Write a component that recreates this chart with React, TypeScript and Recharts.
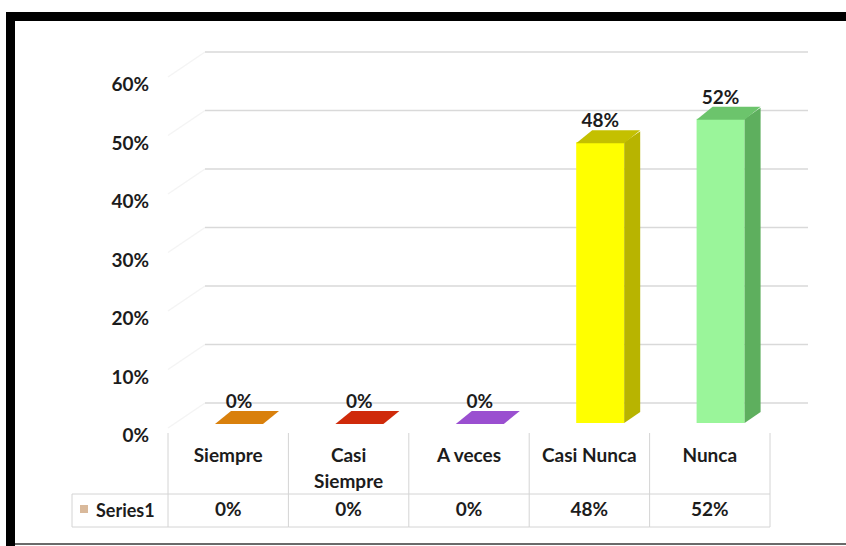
import { BarChart, Bar, XAxis, YAxis, CartesianGrid, Cell, LabelList } from 'recharts';

const categories = ['Siempre', 'Casi Siempre', 'A veces', 'Casi Nunca', 'Nunca'];
const values = [0, 0, 0, 0.48, 0.52];
const yTicks = [0, 0.1, 0.2, 0.3, 0.4, 0.5, 0.6];
const seriesName = 'Series1';

const data = categories.map((name, i) => ({ name, value: values[i] }));

// front / side / top colours per category
const palette = [
  { front: '#e08a12', side: '#a8620a', top: '#d9800c' },
  { front: '#d8300c', side: '#a02008', top: '#cf2a0a' },
  { front: '#a35ad8', side: '#7a3ab0', top: '#9a4fd0' },
  { front: '#ffff00', side: '#b8b400', top: '#c4c000' },
  { front: '#9af59a', side: '#5eaf5e', top: '#6cc46c' },
];

const FONT = 'Lato, "Open Sans", sans-serif';
const FS = 19;
const TEXT = '#1c1c1c';
const SHIFT = 11; // front face offset inside band
const DX = 16;
const DY = 11;
const CELL_W = 120.4;
const TABLE_TOP = 433;
const ROW_SPLIT = 494;
const TABLE_BOTTOM = 527;
const TABLE_LINE = '#d4d4d4';

const pct = (v: number) => `${Math.round(v * 100)}%`;

function Bar3D(props: any) {
  const { x, y, width, height, index } = props;
  const c = palette[index];
  const fx = x + SHIFT;
  const h = Math.max(height, 0);
  return (
    <g>
      <rect x={fx} y={y} width={width} height={h} fill={c.front} />
      <polygon
        points={`${fx + width},${y} ${fx + width + DX},${y - DY} ${fx + width + DX},${y + h - DY} ${fx + width},${y + h}`}
        fill={c.side}
      />
      <polygon
        points={`${fx},${y + 1} ${fx + DX},${y - DY - 1} ${fx + width + DX},${y - DY - 1} ${fx + width},${y + 1}`}
        fill={c.top}
      />
    </g>
  );
}

function ValueLabel(props: any) {
  const { x, y, width, value } = props;
  return (
    <text
      x={x + SHIFT + width / 2}
      y={y - DY - 4}
      textAnchor="middle"
      fontFamily={FONT}
      fontWeight={700}
      fontSize={FS}
      fill={TEXT}
    >
      {pct(value)}
    </text>
  );
}

function YTick(props: any) {
  const { y, payload } = props;
  return (
    <text x={149} y={y + 19} textAnchor="end" fontFamily={FONT} fontWeight={700} fontSize={FS} fill={TEXT}>
      {pct(payload.value)}
    </text>
  );
}

function TableTick(props: any) {
  const { x, payload, index } = props;
  const label: string = payload.value;
  const lines = label.length > 10 ? label.split(' ') : [label];
  const left = x - CELL_W / 2;
  const right = x + CELL_W / 2;
  const txt = { fontFamily: FONT, fontWeight: 700, fontSize: FS, fill: TEXT, textAnchor: 'middle' as const };
  return (
    <g>
      {index === 0 && (
        <g>
          <line x1={left} y1={TABLE_TOP} x2={left} y2={TABLE_BOTTOM} stroke={TABLE_LINE} />
          <line x1={72} y1={ROW_SPLIT} x2={left} y2={ROW_SPLIT} stroke={TABLE_LINE} />
          <line x1={72} y1={TABLE_BOTTOM} x2={left} y2={TABLE_BOTTOM} stroke={TABLE_LINE} />
          <line x1={72} y1={ROW_SPLIT} x2={72} y2={TABLE_BOTTOM} stroke={TABLE_LINE} />
          <rect x={80} y={505} width={8} height={8} fill="#d9b99b" />
          <text x={96} y={517} fontFamily={FONT} fontWeight={700} fontSize={FS - 1} fill={TEXT}>
            {seriesName}
          </text>
        </g>
      )}
      <line x1={right} y1={TABLE_TOP} x2={right} y2={TABLE_BOTTOM} stroke={TABLE_LINE} />
      <line x1={left} y1={ROW_SPLIT} x2={right} y2={ROW_SPLIT} stroke={TABLE_LINE} />
      <line x1={left} y1={TABLE_BOTTOM} x2={right} y2={TABLE_BOTTOM} stroke={TABLE_LINE} />
      {lines.map((ln, i) => (
        <text key={i} x={x} y={462 + i * 26} {...txt}>
          {ln}
        </text>
      ))}
      <text x={x} y={516} {...txt}>
        {pct(values[index])}
      </text>
    </g>
  );
}

function GridLine(props: any) {
  const { y1 } = props;
  const by = y1 - 20;
  return (
    <g key={`g-${y1}`}>
      <line x1={168} y1={by + 25} x2={205} y2={by} stroke="#f4f4f4" strokeWidth={1.5} />
      <line x1={205} y1={by} x2={808} y2={by} stroke="#d9d9d9" strokeWidth={1.5} />
    </g>
  );
}

export default function App() {
  return (
    <div style={{ position: 'absolute', left: 0, top: 0, width: 846, height: 546, background: '#fff' }}>
      <BarChart
        width={846}
        height={546}
        data={data}
        margin={{ top: 72, right: 76, left: 108, bottom: 0 }}
        barSize={48}
      >
        <CartesianGrid vertical={false} horizontal={GridLine as any} />
        <YAxis
          width={60}
          domain={[0, 0.6]}
          ticks={yTicks}
          axisLine={false}
          tickLine={false}
          tick={YTick}
          interval={0}
        />
        <XAxis
          dataKey="name"
          height={123}
          axisLine={false}
          tickLine={false}
          tick={TableTick}
          interval={0}
        />
        <Bar dataKey="value" shape={Bar3D} isAnimationActive={false}>
          {data.map((d, i) => (
            <Cell key={d.name} fill={palette[i].front} />
          ))}
          <LabelList dataKey="value" content={ValueLabel} />
        </Bar>
      </BarChart>
      <svg
        width={846}
        height={546}
        style={{ position: 'absolute', left: 0, top: 0, pointerEvents: 'none' }}
      >
        <rect x={6} y={12} width={840} height={9} fill="#000" />
        <rect x={6} y={12} width={9} height={534} fill="#000" />
        <line x1={15} y1={544} x2={846} y2={544} stroke="#6a6a6a" strokeWidth={2} />
      </svg>
    </div>
  );
}
